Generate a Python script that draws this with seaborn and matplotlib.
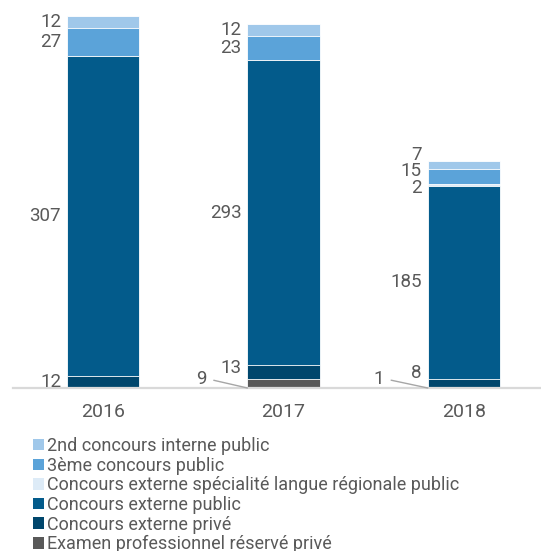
import matplotlib.pyplot as plt
import numpy as np
import pandas as pd
import seaborn as sns
from matplotlib.patches import Patch

# Données (de bas en haut de la pile)
years = ["2016", "2017", "2018"]
series = [
    "Examen professionnel réservé privé",
    "Concours externe privé",
    "Concours externe public",
    "Concours externe spécialité langue régionale public",
    "3ème concours public",
    "2nd concours interne public",
]
examen_prive = [0, 9, 1]
externe_prive = [12, 13, 8]
externe_public = [307, 293, 185]
langue_regionale = [0, 0, 2]
troisieme_public = [27, 23, 15]
second_interne = [12, 12, 7]

colors = ["#595959", "#00466C", "#035B8B", "#DDEBF7", "#5BA3D9", "#A0C8EA"]
text_color = "#595959"
axis_color = "#D9D9D9"

PX = 72 / 100  # pixels -> points

# Décalages des étiquettes (px, vers le haut)
nudges = {
    ("Concours externe privé", "2017"): 4,
    ("Concours externe privé", "2018"): 10,
    ("Concours externe spécialité langue régionale public", "2018"): -3,
    ("3ème concours public", "2018"): 5,
    ("2nd concours interne public", "2018"): 10,
}
# Étiquettes avec trait de rappel (dx, dy en px)
leaders = {
    ("Examen professionnel réservé privé", "2017"): (-41, 9),
    ("Examen professionnel réservé privé", "2018"): (-44, 9),
}

df = pd.DataFrame(
    [examen_prive, externe_prive, externe_public, langue_regionale, troisieme_public, second_interne],
    index=series,
    columns=years,
).T
cum = df.cumsum(axis=1)

sns.set_theme(style="white")
plt.rcParams["font.family"] = ["Roboto", "DejaVu Sans"]

fig = plt.figure(figsize=(5.41, 5.51), dpi=100)
ax = fig.add_axes([13 / 541, 163 / 551, 528 / 541, 378 / 551])

bar_width = 0.4
# Barres cumulées : de la plus haute à la plus basse
for name, color in reversed(list(zip(series, colors))):
    sns.barplot(
        x=years,
        y=cum[name].values,
        color=color,
        saturation=1,
        width=bar_width,
        edgecolor="white",
        linewidth=0.6,
        ax=ax,
    )

# Étiquettes de valeurs à gauche des barres
for i, year in enumerate(years):
    bottom = 0
    for name in series:
        v = df.loc[year, name]
        if v > 0:
            x_left = i - bar_width / 2
            if (name, year) in leaders:
                dx, dy = leaders[(name, year)]
                ax.annotate(
                    str(v), xy=(x_left, 0), xytext=(dx * PX, dy * PX),
                    textcoords="offset points", ha="right", va="center",
                    fontsize=13.5, color=text_color,
                    arrowprops=dict(arrowstyle="-", color="#A6A6A6", lw=1,
                                    shrinkA=3, shrinkB=0,
                                    connectionstyle="arc,angleA=0,armA=7,angleB=0,armB=0,rad=0"),
                )
            else:
                dy = nudges.get((name, year), 0)
                ax.annotate(
                    str(v), xy=(x_left, bottom + v / 2), xytext=(-6 * PX, dy * PX),
                    textcoords="offset points", ha="right", va="center",
                    fontsize=13.5, color=text_color,
                )
        bottom += v

ax.set_yticks([])
ax.set_xlabel("")
ax.set_ylabel("")
for s in ["top", "right", "left"]:
    ax.spines[s].set_visible(False)
ax.spines["bottom"].set_color(axis_color)
ax.spines["bottom"].set_linewidth(1.6)

ax.set_xticks([0, 1, 2])
ax.set_xticklabels(years)
ax.set_xticks([-0.5, 0.5, 1.5, 2.5], minor=True)
ax.tick_params(axis="x", which="major", length=0, pad=11, labelsize=14, labelcolor=text_color)
ax.tick_params(axis="x", which="minor", length=5, width=1.2, color=axis_color, direction="out")

# Limites après les ticks (set_xticks élargit la vue)
ax.set_xlim(-0.5, (541 - 104) / 180)
ax.set_ylim(0, 378 / 1.04)

# Légende : du haut de la pile vers le bas
handles = [Patch(facecolor=c, edgecolor="none") for c in reversed(colors)]
fig.legend(
    handles,
    list(reversed(series)),
    loc="upper left",
    bbox_to_anchor=(33 / 541, 1 - 437 / 551),
    frameon=False,
    fontsize=13,
    labelcolor=text_color,
    handlelength=0.6,
    handleheight=0.6,
    handletextpad=0.2,
    labelspacing=0.09,
    borderpad=0,
    borderaxespad=0,
)

fig.savefig("out.png", dpi=100)
